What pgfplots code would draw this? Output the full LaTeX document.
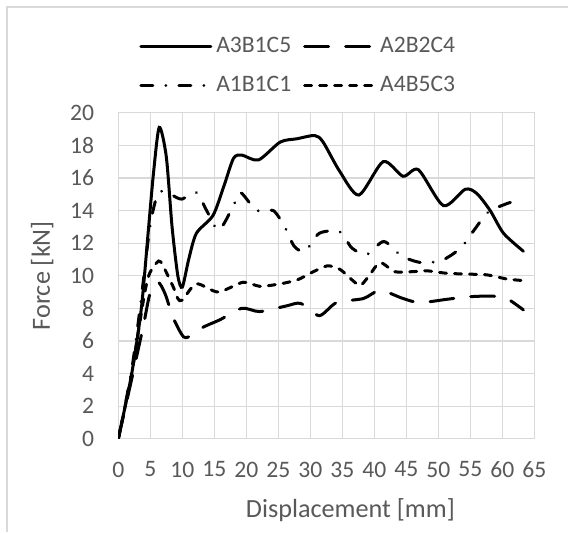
\documentclass[border=0pt]{standalone}
\usepackage{fontspec}
\setmainfont{Carlito}
\usepackage{pgfplots}
\pgfplotsset{compat=1.18}
\definecolor{gridgray}{HTML}{D9D9D9}
\definecolor{txtgray}{HTML}{595959}
\newcommand{\chartfont}{\fontsize{11.8}{14}\selectfont}
\newcommand{\titlefont}{\fontsize{13.1}{15}\selectfont}

\begin{document}
\begin{tikzpicture}
% chart area, 568x532 px at 0.5pt per px
\useasboundingbox[fill=white] (0,0) rectangle (284pt,266pt);
\begin{axis}[
    at={(59.15pt,46.65pt)}, anchor=south west,
    scale only axis, width=208pt, height=163pt,
    xmin=0, xmax=65, ymin=0, ymax=20,
    xtick={0,5,...,65}, ytick={0,2,...,20},
    grid=major,
    major grid style={draw=gridgray, line width=0.6pt},
    axis line style={draw=gridgray, line width=0.6pt},
    major tick length=0pt,
    /pgf/number format/assume math mode=true,
    tick label style={font=\chartfont, text=txtgray},
    yticklabel style={xshift=-8.6pt},
    xticklabel style={yshift=-8pt},
    xlabel={Displacement [mm]},
    ylabel={Force [kN]},
    every axis x label/.style={at={(axis description cs:0.558,-0.219)}, anchor=center,
        font=\titlefont, text=txtgray},
    every axis y label/.style={at={(axis description cs:-0.183,0.5)}, rotate=90, anchor=center,
        font=\titlefont, text=txtgray},
    legend columns=2,
    legend style={draw=none, fill=none, at={(axis description cs:0.035,1.257)},
        anchor=north west, font=\chartfont, text=txtgray,
        /tikz/every even column/.append style={column sep=4pt},
        row sep=6.5pt},
    legend cell align=left,
    legend image code/.code={\draw[#1] (0pt,0pt) -- (35pt,0pt);},
    every axis plot/.append style={black, line width=1.5pt, line cap=round, smooth, tension=0.45},
]
% A3B1C5
\addplot[solid] coordinates {
(0,0) (2.1,4) (3.6,8) (4.7,12.8) (5.5,16.3) (6.4,19.1) (7.5,17.3) (8.4,13)
(9.3,10) (10,9.3) (11,11) (12.2,12.6) (14.8,13.7) (16.5,15.5) (18,17.2)
(19.3,17.4) (21.9,17.1) (25.3,18.2) (27.9,18.4) (30.7,18.6) (32,18.2)
(34.6,16.4) (37.6,14.95) (41.4,17.0) (44.5,16.1) (46.9,16.5) (50.8,14.3)
(54.2,15.3) (56,15.05) (58.1,14.0) (60.2,12.6) (63.3,11.5)
};
\addlegendentry{A3B1C5}
% A2B2C4
\addplot[dash pattern=on 12pt off 8.5pt] coordinates {
(0,0) (2,3.5) (3.9,6.9) (4.95,8.9) (6.2,9.6) (7.3,8.9) (8.6,7.4) (10.2,6.25)
(11.5,6.35) (13.3,6.85) (15.9,7.3) (19.3,8.0) (22.1,7.8) (26.3,8.15)
(28.5,8.3) (31.4,7.55) (34.1,8.35) (38.3,8.6) (40.9,9.1) (44.5,8.6)
(47.1,8.35) (51.3,8.55) (54.4,8.7) (58.3,8.75) (60.7,8.6) (63.3,7.9)
};
\addlegendentry{A2B2C4}
% A1B1C1
\addplot[dash pattern=on 6pt off 6.5pt on 0.01pt off 6.5pt] coordinates {
(0,0) (2,4) (3.4,8) (4.95,13) (6.3,15.1) (8.3,14.95) (9.9,14.7) (12.2,15.1)
(13.8,14.0) (15.7,12.8) (18,14.3) (19.1,15.1) (21.6,14.0) (24.2,14.0)
(26,13) (27.5,11.8) (29.2,11.5) (31.4,12.6) (34.6,12.7) (36.5,11.7)
(38.8,11.3) (41.5,12.1) (44.3,11.2) (47.4,10.8) (50.6,10.95) (53.5,11.7)
(55.6,12.8) (57.8,13.9) (60.9,14.45) (62.5,14.6)
};
\addlegendentry{A1B1C1}
% A4B5C3
\addplot[dash pattern=on 3.5pt off 4pt] coordinates {
(0,0) (2,3.8) (3.1,6.5) (4.2,9.1) (4.95,10.2) (6.3,10.9) (7,10.6) (8.6,9.3)
(9.3,8.6) (10,8.5) (12.2,9.5) (15.6,9.0) (19.5,9.6) (22.1,9.35) (25.3,9.5)
(28,9.75) (30,10.15) (32.6,10.6) (34.6,10.4) (36.5,9.75) (37.8,9.4)
(39.1,9.95) (40.9,10.8) (43.2,10.25) (46.1,10.25) (48.2,10.3) (51.3,10.15)
(54.4,10.1) (57.6,10.05) (60.7,9.8) (63.3,9.7)
};
\addlegendentry{A4B5C3}
\end{axis}
\draw[gridgray, line width=0.6pt] (3.5pt,0pt) -- (3.5pt,262.5pt) -- (284pt,262.5pt);
\end{tikzpicture}
\end{document}
